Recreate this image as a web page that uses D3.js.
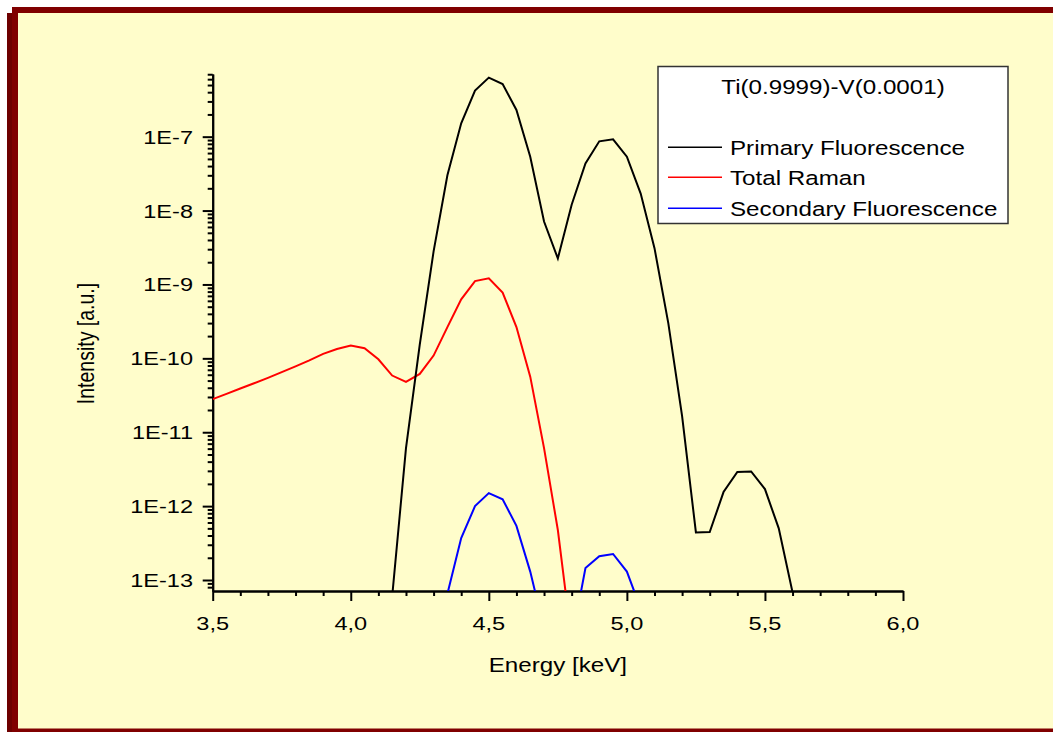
<!DOCTYPE html>
<html>
<head>
<meta charset="utf-8">
<script src="https://cdn.jsdelivr.net/npm/d3@7"></script>
<style>
  body { margin: 0; background: #ffffff; }
  svg { display: block; }
  text { font-family: "Liberation Sans", Arial, sans-serif; fill: #000; }
</style>
</head>
<body>
<svg id="chart" width="1053" height="732"></svg>
<script>
// ---- data ---------------------------------------------------------------
const energyPrimary = [4.15, 4.20, 4.25, 4.30, 4.35, 4.40, 4.45, 4.50, 4.55, 4.60,
                       4.65, 4.70, 4.75, 4.80, 4.85, 4.90, 4.95, 5.00, 5.05, 5.10,
                       5.15, 5.20, 5.25, 5.30, 5.35, 5.40, 5.45, 5.50, 5.55, 5.60];
const primaryFluorescence = [6.0e-14, 6.1e-12, 1.55e-10, 2.8e-9, 3.0e-8, 1.52e-7, 4.2e-7, 6.3e-7, 5.15e-7, 2.3e-7,
                             5.35e-8, 7.1e-9, 2.25e-9, 1.2e-8, 4.35e-8, 8.65e-8, 9.2e-8, 5.35e-8, 1.7e-8, 3.1e-9,
                             3.0e-10, 1.65e-11, 4.4e-13, 4.45e-13, 1.55e-12, 2.9e-12, 2.95e-12, 1.7e-12, 5.0e-13, 6.8e-14];

const energyRaman = [3.50, 3.55, 3.60, 3.65, 3.70, 3.75, 3.80, 3.85, 3.90, 3.95,
                     4.00, 4.05, 4.10, 4.15, 4.20, 4.25, 4.30, 4.35, 4.40, 4.45,
                     4.50, 4.55, 4.60, 4.65, 4.70, 4.75, 4.80];
const totalRaman = [2.8e-11, 3.3e-11, 3.9e-11, 4.6e-11, 5.45e-11, 6.5e-11, 7.8e-11, 9.4e-11, 1.15e-10, 1.34e-10,
                    1.49e-10, 1.37e-10, 9.7e-11, 5.85e-11, 4.8e-11, 6.15e-11, 1.09e-10, 2.65e-10, 6.3e-10, 1.11e-9,
                    1.21e-9, 7.75e-10, 2.65e-10, 5.65e-11, 6.1e-12, 4.75e-13, 1.5e-14];

const energySecondary = [4.35, 4.40, 4.45, 4.50, 4.55, 4.60, 4.65, 4.70, 4.75,
                         4.80, 4.85, 4.90, 4.95, 5.00, 5.05];
const secondaryFluorescence = [6.5e-14, 3.7e-13, 1.0e-12, 1.5e-12, 1.24e-12, 5.4e-13, 1.3e-13, 2.2e-14, 5.0e-15,
                               1.5e-14, 1.45e-13, 2.1e-13, 2.25e-13, 1.3e-13, 4.1e-14];

const seriesNames = ["Primary Fluorescence", "Total Raman", "Secondary Fluorescence"];
const seriesColors = ["#000000", "#ff0000", "#0000ff"];
const legendTitle = "Ti(0.9999)-V(0.0001)";

const xMajorTicks = [3.5, 4.0, 4.5, 5.0, 5.5, 6.0];
const xTickLabels = ["3,5", "4,0", "4,5", "5,0", "5,5", "6,0"];
const yMajorTicks = [1e-13, 1e-12, 1e-11, 1e-10, 1e-9, 1e-8, 1e-7];
const yTickLabels = ["1E-13", "1E-12", "1E-11", "1E-10", "1E-9", "1E-8", "1E-7"];
const xTitle = "Energy [keV]";
const yTitle = "Intensity [a.u.]";

// ---- layout -------------------------------------------------------------
const plot = { left: 212.7, right: 903, top: 74, bottom: 591 };
const stretch = 1.24;   // glyphs are drawn slightly wide

const svg = d3.select("#chart");

// page frame with its drop shadow
svg.append("rect").attr("x", 7).attr("y", 13).attr("width", 1100).attr("height", 730).attr("fill", "#6e0000");
svg.append("rect").attr("x", 12).attr("y", 7).attr("width", 1100).attr("height", 725).attr("fill", "#800000");
svg.append("rect").attr("x", 18).attr("y", 13).attr("width", 1100).attr("height", 715.5).attr("fill", "#fffdcb");

const x = d3.scaleLinear().domain([3.5, 6.0]).range([plot.left, plot.right]);
const y = d3.scaleLog().domain([7.1e-14, 7.05e-7]).range([plot.bottom, plot.top]);

// wide text helper
function wideText(g, px, py, str, size, anchor) {
  return g.append("text")
    .attr("transform", `translate(${px},${py}) scale(${stretch},1)`)
    .attr("text-anchor", anchor)
    .style("font-size", size + "px")
    .text(str);
}

// ---- axes ---------------------------------------------------------------
const xMinor = d3.range(36, 60).map(d => d / 10).filter(v => !xMajorTicks.some(m => Math.abs(m - v) < 1e-9));
const yMinor = [];
for (let e = -14; e <= -7; e++) {
  for (let k = 2; k <= 9; k++) {
    const v = k * Math.pow(10, e);
    if (v >= 7.1e-14 && v <= 7.05e-7) yMinor.push(v);
  }
}

const axisStyle = g => {
  g.selectAll("path, line").attr("stroke", "#000").attr("stroke-width", 2);
  g.selectAll("text").remove();
};

svg.append("g").attr("transform", `translate(0,${plot.bottom})`)
  .call(d3.axisBottom(x).tickValues(xMinor).tickSize(5).tickSizeOuter(0).tickFormat(""))
  .call(axisStyle);
svg.append("g").attr("transform", `translate(0,${plot.bottom})`)
  .call(d3.axisBottom(x).tickValues(xMajorTicks).tickSize(10).tickSizeOuter(0).tickFormat(""))
  .call(axisStyle);
svg.append("g").attr("transform", `translate(${plot.left},0)`)
  .call(d3.axisLeft(y).tickValues(yMinor).tickSize(5).tickSizeOuter(0).tickFormat(""))
  .call(axisStyle);
svg.append("g").attr("transform", `translate(${plot.left},0)`)
  .call(d3.axisLeft(y).tickValues(yMajorTicks).tickSize(10).tickSizeOuter(0).tickFormat(""))
  .call(axisStyle);

// tick labels
const labels = svg.append("g");
xMajorTicks.forEach((v, i) => wideText(labels, x(v), 629.5, xTickLabels[i], 19, "middle"));
yMajorTicks.forEach((v, i) => wideText(labels, 193, y(v) + 7, yTickLabels[i], 19, "end"));

// axis titles
wideText(svg, (plot.left + plot.right) / 2, 671.5, xTitle, 19.5, "middle");
svg.append("text")
  .attr("transform", `translate(94,343.5) rotate(-90) scale(1,${stretch})`)
  .attr("text-anchor", "middle")
  .style("font-size", "19.5px")
  .text(yTitle);

// ---- curves -------------------------------------------------------------
svg.append("defs").append("clipPath").attr("id", "plot-clip")
  .append("rect")
  .attr("x", plot.left).attr("y", plot.top - 5)
  .attr("width", plot.right - plot.left).attr("height", plot.bottom - plot.top + 5);

const series = [
  { e: energyPrimary, v: primaryFluorescence },
  { e: energyRaman, v: totalRaman },
  { e: energySecondary, v: secondaryFluorescence }
];

const line = d3.line().x(d => x(d[0])).y(d => y(d[1]));
const curves = svg.append("g").attr("clip-path", "url(#plot-clip)");
// draw back-to-front: secondary, raman, primary
[2, 1, 0].forEach(i => {
  curves.append("path")
    .datum(d3.zip(series[i].e, series[i].v))
    .attr("d", line)
    .attr("fill", "none")
    .attr("stroke", seriesColors[i])
    .attr("stroke-width", 2)
    .attr("stroke-linejoin", "miter");
});

// ---- legend -------------------------------------------------------------
const legend = svg.append("g");
legend.append("rect")
  .attr("x", 658).attr("y", 66.5).attr("width", 350).attr("height", 157)
  .attr("fill", "#ffffff").attr("stroke", "#333").attr("stroke-width", 1.5);
wideText(legend, 833, 94, legendTitle, 19.5, "middle");
const rowY = [147.3, 177.3, 208.3];
seriesNames.forEach((name, i) => {
  legend.append("line")
    .attr("x1", 668).attr("x2", 722).attr("y1", rowY[i]).attr("y2", rowY[i])
    .attr("stroke", seriesColors[i]).attr("stroke-width", 1.5);
  wideText(legend, 730, rowY[i] + 7.5, name, 19.5, "start");
});
</script>
</body>
</html>
